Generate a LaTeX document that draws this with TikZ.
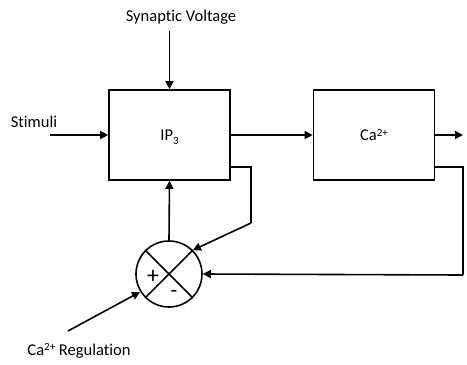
\documentclass[tikz,border=0pt]{standalone}
\usepackage{fontspec}
\setmainfont{Carlito}[Ligatures={NoCommon,NoContextual}]
\usetikzlibrary{arrows.meta}
\newcommand{\mysup}[1]{\raisebox{0.55ex}{\fontsize{11}{12}\selectfont #1}}
\newcommand{\mysub}[1]{\raisebox{-0.45ex}{\fontsize{11}{12}\selectfont #1}}
\begin{document}
\begin{tikzpicture}[x=1pt,y=-1pt,
  blk/.style={draw,line width=1.6pt,minimum width=121pt,minimum height=90pt,inner sep=0pt},
  conn/.style={line width=1.6pt,-{Triangle[length=8pt,width=8pt]}},
  wire/.style={line width=1.6pt},
  lbl/.style={font=\fontsize{16.5}{19}\selectfont,inner sep=0pt}]
\useasboundingbox (0,0) rectangle (467,365);
\node[blk] (ip3) at (169.5,135) {};
\node[lbl] at (169.5,137) {IP\mysub{3}};
\node[blk] (ca) at (374,135) {};
\node[lbl] at (374,135) {Ca\mysup{2+}};
\node[draw,circle,line width=1.6pt,minimum size=66pt,inner sep=0pt] (sum) at (169,274) {};
\draw[wire] (sum.north west) -- (sum.south east);
\draw[wire] (sum.north east) -- (sum.south west);
\node[lbl,font=\fontsize{24}{26}\selectfont] at (153,277) {+};
\node[lbl,font=\fontsize{22}{24}\selectfont] at (174,294) {-};
\node[lbl,anchor=center] (syn) at (181,17) {Synaptic Voltage};
\coordinate (synS) at (169.5,31);
\draw[conn] (synS) -- (ip3.north);
\node[lbl] (stim) at (34,122) {Stimuli};
\coordinate (stimS) at (50,135);
\draw[conn] (stimS) -- (ip3.west);
\draw[conn] (ip3.east) -- (ca.west);
\coordinate (outE) at (463,135);
\draw[conn] (ca.east) -- (outE);
\draw[conn] (sum.north) -- (ip3.south);
\coordinate (a1) at (230,167);
\coordinate (a2) at (251,167);
\coordinate (a3) at (251,223);
\draw[wire] (a1) -- (a2) -- (a3);
\draw[conn] (a3) -- (sum.north east);
\coordinate (b1) at (434,167);
\coordinate (b2) at (463,167);
\coordinate (b3) at (463,275);
\draw[wire] (b1) -- (b2) -- (b3);
\draw[conn] (b3) -- (sum.east);
\node[lbl] (reg) at (79,351) {Ca\mysup{2+} Regulation};
\coordinate (regS) at (68,331);
\draw[conn] (regS) -- (140,292);
\end{tikzpicture}
\end{document}
